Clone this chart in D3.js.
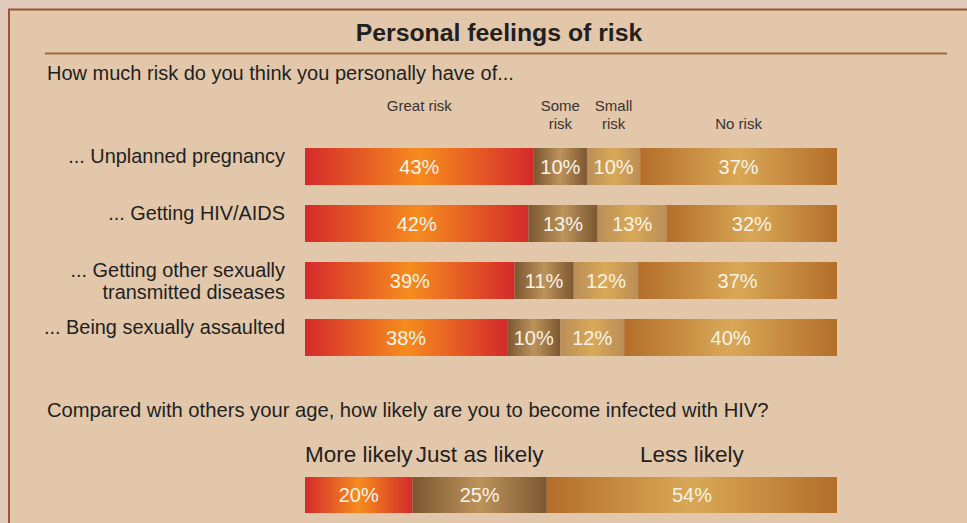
<!DOCTYPE html>
<html>
<head>
<meta charset="utf-8">
<script src="https://cdn.jsdelivr.net/npm/d3@7"></script>
<style>
  html, body { margin: 0; padding: 0; background: #dfcabb; }
  svg { display: block; }
  text { font-family: "Liberation Sans", Arial, sans-serif; }
</style>
</head>
<body>
<svg id="chart" width="967" height="523"></svg>
<script>
// ---------- data ----------
const title = "Personal feelings of risk";
const question1 = "How much risk do you think you personally have of...";
const question2 = "Compared with others your age, how likely are you to become infected with HIV?";

const riskCategories = [
  ["... Unplanned pregnancy"],
  ["... Getting HIV/AIDS"],
  ["... Getting other sexually", "transmitted diseases"],
  ["... Being sexually assaulted"]
];
const riskSeries = ["Great risk", "Some risk", "Small risk", "No risk"];
const riskHeaderLines = [["Great risk"], ["Some", "risk"], ["Small", "risk"], ["", "No risk"]];
const greatRisk = [43, 42, 39, 38];
const someRisk  = [10, 13, 11, 10];
const smallRisk = [10, 13, 12, 12];
const noRisk    = [37, 32, 37, 40];

const likelySeries = ["More likely", "Just as likely", "Less likely"];
const likelyValues = [20, 25, 54];

// ---------- styles ----------
const gradColors = {
  red:   ["#d42a2b", "#f68c1e"],
  brown: ["#7b5731", "#bd935b"],
  tan:   ["#b98d58", "#daa957"],
  gold:  ["#b36e2a", "#d9a857"]
};
const riskGrad = ["red", "brown", "tan", "gold"];
const likelyGrad = ["red", "brown", "gold"];
const textDark = "#231f20";

const svg = d3.select("#chart");

// gradients
const defs = svg.append("defs");
Object.entries(gradColors).forEach(([k, c]) => {
  const g = defs.append("linearGradient").attr("id", "g-" + k)
    .attr("x1", "0%").attr("x2", "100%").attr("y1", "0%").attr("y2", "0%");
  g.append("stop").attr("offset", "0%").attr("stop-color", c[0]);
  g.append("stop").attr("offset", "50%").attr("stop-color", c[1]);
  g.append("stop").attr("offset", "100%").attr("stop-color", c[0]);
});

// background & panel
svg.append("rect").attr("x", 0).attr("y", 0).attr("width", 967).attr("height", 523).attr("fill", "#dfcabb");
svg.append("rect").attr("x", 9).attr("y", 9.5).attr("width", 980).attr("height", 540)
  .attr("fill", "#e2c7ab").attr("stroke", "#9a5634").attr("stroke-width", 2);
svg.append("line").attr("x1", 45).attr("x2", 947).attr("y1", 53.5).attr("y2", 53.5)
  .attr("stroke", "#a4683f").attr("stroke-width", 2);

// title & questions
svg.append("text").attr("x", 499).attr("y", 41).attr("text-anchor", "middle")
  .attr("font-size", 24.8).attr("font-weight", "bold").attr("fill", textDark).text(title);
svg.append("text").attr("x", 47).attr("y", 80).attr("font-size", 20)
  .attr("fill", textDark).text(question1);
svg.append("text").attr("x", 47).attr("y", 417).attr("font-size", 20.2)
  .attr("fill", textDark).text(question2);

// ---------- risk bars ----------
const rows = riskCategories.map((c, i) => {
  const vals = [greatRisk[i], someRisk[i], smallRisk[i], noRisk[i]];
  return { cat: c, vals, idx: i };
});

const y = d3.scaleBand().domain(d3.range(riskCategories.length))
  .range([148, 356]).paddingInner(20 / 57).paddingOuter(0);
const xRange = [305, 837];

rows.forEach(r => {
  const total = d3.sum(r.vals);
  const x = d3.scaleLinear().domain([0, total]).range(xRange);
  let cum = 0;
  r.segs = r.vals.map((v, j) => {
    const s = { x0: x(cum), x1: x(cum + v), v, j };
    cum += v;
    return s;
  });
});

const rowG = svg.selectAll("g.row").data(rows).join("g").attr("class", "row")
  .attr("transform", d => `translate(0,${y(d.idx)})`);

rowG.selectAll("rect").data(d => d.segs).join("rect")
  .attr("x", s => s.x0).attr("width", s => s.x1 - s.x0)
  .attr("y", 0).attr("height", y.bandwidth())
  .attr("fill", s => `url(#g-${riskGrad[s.j]})`);

rowG.selectAll("text.pct").data(d => d.segs).join("text").attr("class", "pct")
  .attr("x", s => (s.x0 + s.x1) / 2).attr("y", y.bandwidth() / 2 + 7)
  .attr("text-anchor", "middle").attr("font-size", 20).attr("fill", "#fdf3e7")
  .text(s => s.v + "%");

rowG.each(function(d) {
  const t = d3.select(this).append("text").attr("text-anchor", "end")
    .attr("font-size", 19.9).attr("fill", textDark);
  d.cat.forEach((line, k) => {
    t.append("tspan").attr("x", 285).attr("y", 15 + k * 22).text(line);
  });
});

// header labels centred over first row segments
const firstSegs = rows[0].segs;
riskHeaderLines.forEach((lines, j) => {
  const cx = (firstSegs[j].x0 + firstSegs[j].x1) / 2;
  const t = svg.append("text").attr("text-anchor", "middle")
    .attr("font-size", 15).attr("fill", "#3a3330");
  lines.forEach((line, k) => {
    t.append("tspan").attr("x", cx).attr("y", 111 + k * 18).text(line);
  });
});

// ---------- likelihood bar ----------
const xL = d3.scaleLinear().domain([0, d3.sum(likelyValues)]).range(xRange);
let cumL = 0;
const likelySegs = likelyValues.map((v, j) => {
  const s = { x0: xL(cumL), x1: xL(cumL + v), v, j, name: likelySeries[j] };
  cumL += v;
  return s;
});
const lbTop = 477, lbH = 36;
const lg = svg.append("g");
lg.selectAll("rect").data(likelySegs).join("rect")
  .attr("x", s => s.x0).attr("width", s => s.x1 - s.x0)
  .attr("y", lbTop).attr("height", lbH)
  .attr("fill", s => `url(#g-${likelyGrad[s.j]})`);
lg.selectAll("text.pct").data(likelySegs).join("text").attr("class", "pct")
  .attr("x", s => (s.x0 + s.x1) / 2).attr("y", lbTop + lbH / 2 + 7)
  .attr("text-anchor", "middle").attr("font-size", 20).attr("fill", "#fdf3e7")
  .text(s => s.v + "%");
lg.selectAll("text.lab").data(likelySegs).join("text").attr("class", "lab")
  .attr("x", s => (s.x0 + s.x1) / 2).attr("y", 462)
  .attr("text-anchor", "middle").attr("font-size", 22.5).attr("fill", textDark)
  .text(s => s.name);
</script>
</body>
</html>
